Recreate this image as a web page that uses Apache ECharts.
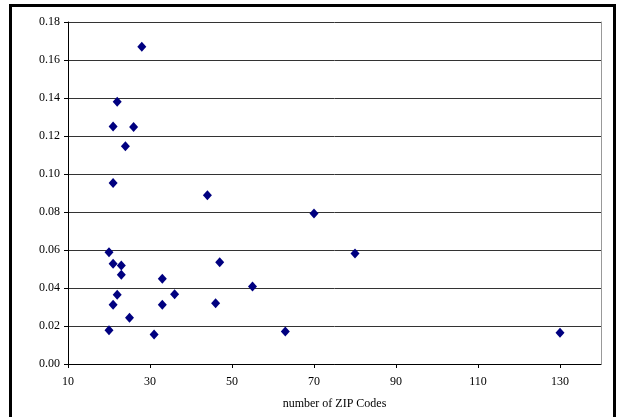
<!DOCTYPE html>
<html>
<head>
<meta charset="utf-8">
<script src="https://cdn.jsdelivr.net/npm/echarts@6/dist/echarts.min.js"></script>
<style>
  html, body { margin: 0; padding: 0; background: #fff; }
  #frame { position: absolute; left: 9px; top: 4px; width: 601px; height: 420px; border: 3px solid #000; }
  #chart { position: absolute; left: 0; top: 0; width: 619px; height: 417px; }
</style>
</head>
<body>
<div id="frame"></div>
<div id="chart"></div>
<script>
  // number of ZIP codes vs. value
  const zipCounts = [28, 22, 21, 26, 24, 21, 44, 70, 20, 80, 21, 23, 47, 23, 33, 55, 36, 22, 33, 46, 21, 25, 20, 31, 63, 130]
  const values = [0.167, 0.138, 0.125, 0.1247, 0.1146, 0.0953, 0.0888, 0.0792, 0.0588, 0.0581, 0.0528, 0.0519, 0.0535, 0.047, 0.0449, 0.0408, 0.0367, 0.0365, 0.0312, 0.032, 0.0312, 0.0243, 0.0178, 0.0155, 0.0171, 0.0164]
  const xTicks = [10, 30, 50, 70, 90, 110, 130]

  const points = zipCounts.map((x, i) => [x, values[i]])
  const font = 'Liberation Serif'

  const chart = echarts.init(document.getElementById('chart'))
  chart.setOption({
    animation: false,
    grid: {
      left: 68,
      right: 18,
      top: 22,
      bottom: 53
    },
    xAxis: {
      type: 'value',
      min: 10,
      max: 140,
      name: 'number of ZIP Codes',
      nameLocation: 'middle',
      nameGap: 34,
      nameTextStyle: { fontFamily: font, fontSize: 12, color: '#000' },
      axisLine: { lineStyle: { color: '#000', width: 1 } },
      axisTick: { show: true, length: 4, customValues: xTicks, lineStyle: { color: '#000' } },
      axisLabel: { customValues: xTicks, fontFamily: font, fontSize: 12, color: '#000', margin: 12 },
      splitLine: { show: false }
    },
    yAxis: [{
      type: 'value',
      min: 0,
      max: 0.18,
      interval: 0.02,
      axisLine: { show: true, lineStyle: { color: '#000', width: 1 } },
      axisTick: { show: true, length: 4, lineStyle: { color: '#000' } },
      axisLabel: {
        fontFamily: font,
        fontSize: 12,
        color: '#000',
        margin: 8,
        formatter: v => v.toFixed(2)
      },
      splitLine: { lineStyle: { color: '#333', width: 1 } }
    }, {
      // plain grey edge on the right of the plot
      type: 'value',
      position: 'right',
      min: 0,
      max: 0.18,
      axisLine: { show: true, lineStyle: { color: '#999', width: 1 } },
      axisTick: { show: false },
      axisLabel: { show: false },
      splitLine: { show: false }
    }],
    series: [{
      type: 'scatter',
      data: points,
      symbol: 'diamond',
      symbolSize: [9, 10],
      itemStyle: { color: '#000080', opacity: 1 }
    }]
  })
</script>
</body>
</html>
